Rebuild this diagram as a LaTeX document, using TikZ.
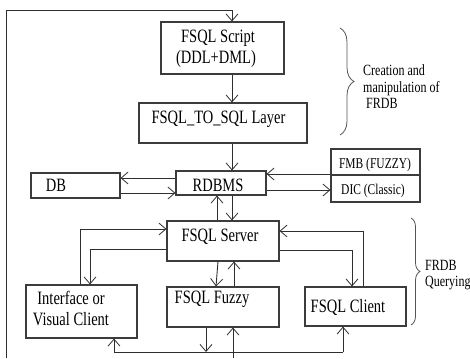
\documentclass[tikz,border=0pt]{standalone}
\usepackage{fontspec}
\setmainfont{Liberation Serif}
\usepackage{graphicx}
\usetikzlibrary{arrows.meta,decorations.pathreplacing}
\definecolor{boxc}{HTML}{3C3C3C}
\definecolor{linec}{HTML}{2E2E2E}
\definecolor{bracec}{HTML}{555555}
\newcommand\vtext[1]{\scalebox{1}[1.3]{#1}}
\begin{document}
\begin{tikzpicture}[x=1pt,y=-1pt,
  box/.style={draw=boxc, line width=1.1pt, inner sep=0pt},
  txt/.style={font=\fontsize{14.5}{17}\selectfont, inner sep=0pt, anchor=base},
  lefttxt/.style={font=\fontsize{12}{14}\selectfont, inner sep=0pt, anchor=base west},
  smalltxt/.style={font=\fontsize{11.5}{14}\selectfont, inner sep=0pt, anchor=base},
  conn/.style={draw=linec, line width=0.9pt},
  arr/.style={conn, -{Straight Barb[length=7pt,width=12pt,line width=0.8pt]}},
  bracebig/.style={draw=bracec, line width=0.8pt, decorate, decoration={brace, amplitude=14pt}},
  bracesmall/.style={draw=bracec, line width=0.8pt, decorate, decoration={brace, amplitude=9pt}}]
\fill[white] (0,0) rectangle (470,358);
\useasboundingbox (0,0) rectangle (470,358);

% boxes
\node[box, minimum width=123pt, minimum height=52pt] (script) at (222.5,48) {};
\node[box, minimum width=168pt, minimum height=40pt] (layer) at (223,123) {};
\node[box, minimum width=90pt, minimum height=24pt] (rdbms) at (221,183) {};
\node[box, minimum width=89pt, minimum height=25pt] (db) at (75.5,185.5) {};
\node[box, minimum width=89pt, minimum height=26pt] (fmb) at (375.5,162) {};
\node[box, minimum width=89pt, minimum height=27pt] (dic) at (375.5,188.5) {};
\node[box, minimum width=112pt, minimum height=40pt] (server) at (223,241) {};
\node[box, minimum width=111pt, minimum height=53pt] (interface) at (81.5,311.5) {};
\node[box, minimum width=112pt, minimum height=40pt] (fuzzy) at (223,307) {};
\node[box, minimum width=101pt, minimum height=39pt] (client) at (355.5,306.5) {};

% texts
\node[txt] (scriptA) at (218,43) {\vtext{FSQL Script}};
\node[txt] (scriptB) at (216,64) {\vtext{(DDL+DML)}};
\node[txt] (layerT) at (218.5,124) {\vtext{FSQL\_TO\_SQL Layer}};
\node[txt] (rdbmsT) at (218,191.5) {\vtext{RDBMS}};
\node[txt] (dbT) at (56,191.5) {\vtext{DB}};
\node[smalltxt] (fmbT) at (375,168.5) {\vtext{FMB (FUZZY)}};
\node[smalltxt] (dicT) at (373,194.5) {\vtext{DIC (Classic)}};
\node[txt] (serverT) at (220,241.5) {\vtext{FSQL Server}};
\node[txt] (interfaceA) at (71,304) {\vtext{Interface or}};
\node[txt] (interfaceB) at (71,325) {\vtext{Visual Client}};
\node[txt] (fuzzyT) at (212,303) {\vtext{FSQL Fuzzy}};
\node[txt] (clientT) at (348,312.5) {\vtext{FSQL Client}};
\node[lefttxt] (creA) at (363,76) {\vtext{Creation and}};
\node[lefttxt] (creB) at (363,92.5) {\vtext{manipulation of}};
\node[lefttxt] (creC) at (366,108.5) {\vtext{FRDB}};
\node[lefttxt] (qA) at (425,270) {\vtext{FRDB}};
\node[lefttxt] (qB) at (425,286.5) {\vtext{Querying}};

% braces
\coordinate (b1t) at (340,28);
\coordinate (b1b) at (340,135);
\draw[bracebig] (b1t) -- (b1b);
\coordinate (b2t) at (411,218);
\coordinate (b2b) at (411,325);
\draw[bracesmall] (b2t) -- (b2b);

% outer loop
\coordinate (loopbl) at (6,358);
\coordinate (looptl) at (6,10.5);
\coordinate (looptr) at (232,10.5);
\draw[arr] (loopbl) -- (looptl) -- (looptr) -- (looptr |- script.north);

% vertical chain
\draw[arr] (script.south -| looptr) -- (layer.north -| looptr);
\draw[arr] (layer.south -| looptr) -- (rdbms.north -| looptr);

% DB <-> RDBMS
\draw[arr] (rdbms.west |- 0,178) -- (db.east |- 0,178);
\draw[arr] (db.east |- 0,193) -- (rdbms.west |- 0,193);

% FMB / DIC
\draw[arr] (fmb.west |- 0,174) -- (rdbms.east |- 0,174);
\draw[arr] (rdbms.east |- 0,190) -- (dic.west |- 0,190);

% RDBMS <-> Server
\draw[arr] (server.north -| 217,0) -- (rdbms.south -| 217,0);
\draw[arr] (rdbms.south -| 232,0) -- (server.north -| 232,0);

% Interface <-> Server
\coordinate (iup) at (80,229);
\coordinate (idn) at (90,249);
\draw[arr] (interface.north -| iup) -- (iup) -- (server.west |- iup);
\draw[arr] (server.west |- idn) -- (idn) -- (interface.north -| idn);

% Client <-> Server
\coordinate (cup) at (363,231);
\coordinate (cdn) at (352,250);
\draw[arr] (client.north -| cup) -- (cup) -- (server.east |- cup);
\draw[arr] (server.east |- cdn) -- (cdn) -- (client.north -| cdn);

% Server <-> Fuzzy
\draw[arr] (server.south -| 218,0) -- (fuzzy.north -| 216,0);
\draw[arr] (fuzzy.north -| 234,0) -- (server.south -| 234,0);

% bottom bus
\coordinate (bl) at (114,352);
\coordinate (br) at (343,352);
\coordinate (bf) at (206,352);
\coordinate (bfree) at (233,358);
\draw[conn] (bl) -- (br);
\draw[arr] (bl) -- (interface.south -| bl);
\draw[arr] (br) -- (client.south -| br);
\draw[arr] (fuzzy.south -| bf) -- (bf);
\draw[arr] (bfree) -- (fuzzy.south -| bfree);
\end{tikzpicture}
\end{document}
